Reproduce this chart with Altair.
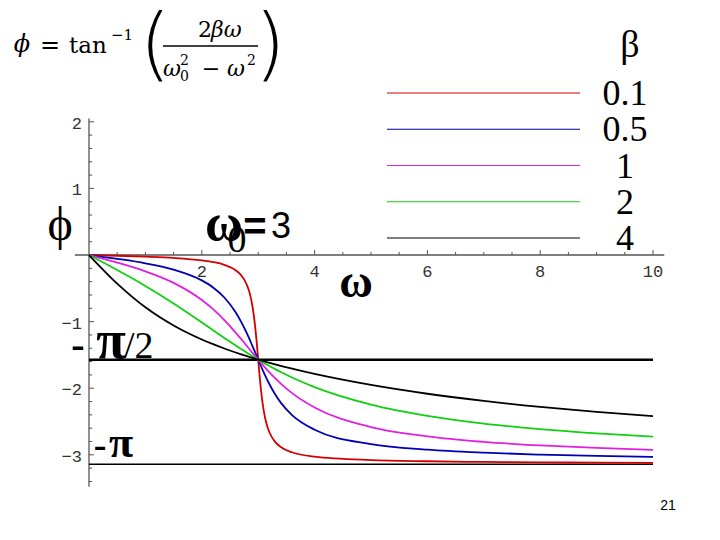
import altair as alt
import pandas as pd

# ---------------- data ----------------
omega = [0, 0.5, 1, 1.5, 2, 2.2, 2.4, 2.6, 2.7, 2.8, 2.85, 2.9, 2.95, 2.97, 3,
         3.03, 3.05, 3.1, 3.15, 3.2, 3.3, 3.4, 3.6, 4, 5, 6, 7, 8, 9, 10]
betas = ["0.1", "0.5", "1", "2", "4"]
phi_b01 = [0, -0.011, -0.025, -0.044, -0.080, -0.105, -0.147, -0.228, -0.306, -0.450,
           -0.576, -0.777, -1.104, -1.279, -1.571, -1.860, -2.031, -2.348, -2.542, -2.665,
           -2.805, -2.882, -2.962, -3.028, -3.079, -3.097, -3.107, -3.113, -3.117, -3.120]
phi_b05 = [0, -0.057, -0.124, -0.219, -0.381, -0.487, -0.638, -0.860, -1.007, -1.178,
           -1.272, -1.370, -1.470, -1.511, -1.571, -1.630, -1.670, -1.765, -1.856, -1.940,
           -2.091, -2.216, -2.404, -2.623, -2.839, -2.923, -2.968, -2.997, -3.017, -3.032]
phi_b1 = [0, -0.114, -0.245, -0.418, -0.675, -0.813, -0.977, -1.164, -1.264, -1.367,
          -1.418, -1.470, -1.520, -1.541, -1.571, -1.601, -1.620, -1.669, -1.716, -1.762,
          -1.850, -1.931, -2.074, -2.290, -2.583, -2.723, -2.805, -2.859, -2.897, -2.925]
phi_b2 = [0, -0.225, -0.464, -0.727, -1.012, -1.129, -1.245, -1.359, -1.414, -1.468,
          -1.494, -1.520, -1.546, -1.556, -1.571, -1.586, -1.596, -1.620, -1.644, -1.667,
          -1.713, -1.757, -1.839, -1.983, -2.246, -2.415, -2.531, -2.614, -2.678, -2.728]
phi_b4 = [0, -0.429, -0.785, -1.058, -1.268, -1.339, -1.404, -1.464, -1.492, -1.519,
          -1.532, -1.545, -1.558, -1.563, -1.571, -1.578, -1.583, -1.595, -1.607, -1.619,
          -1.642, -1.665, -1.707, -1.786, -1.951, -2.083, -2.191, -2.281, -2.356, -2.420]
colors = ["#d40000", "#0000b4", "#e020e0", "#10d010", "#000000"]

ref_levels = [-1.5708, -3.1416]          # -pi/2, -pi
omega_span = [0, 10]

y_major = [-3, -2, -1, 1, 2]
y_major_labels = ["\u22123", "\u22122", "\u22121", "1", "2"]
y_minor = [-3.4, -3.2, -2.8, -2.6, -2.4, -2.2, -1.8, -1.6, -1.4, -1.2, -0.8, -0.6,
           -0.4, -0.2, 0.2, 0.4, 0.6, 0.8, 1.2, 1.4, 1.6, 1.8]
x_major = [2, 4, 6, 8, 10]
x_major_labels = ["2", "4", "6", "8", "10"]
x_minor = [0.5, 1, 1.5, 2.5, 3, 3.5, 4.5, 5, 5.5, 6.5, 7, 7.5, 8.5, 9, 9.5]
axis_x_range = [-0.25, 10.2]
axis_y_range = [-3.48, 2.05]

# ---------------- tables ----------------
rows = []
for b, series in zip(betas, [phi_b01, phi_b05, phi_b1, phi_b2, phi_b4]):
    for w, p in zip(omega, series):
        rows.append({"omega": w, "phi": p, "beta": b})
curves = pd.DataFrame(rows)

X = alt.Scale(domain=[-1.436, 11.046], nice=False, zero=False)
Y = alt.Scale(domain=[-4.159, 3.709], nice=False, zero=False)
C = alt.Scale(domain=betas, range=colors)

one = pd.DataFrame({"k": [0]})

# axes
xaxis = alt.Chart(pd.DataFrame({"a": [axis_x_range[0]], "b": [axis_x_range[1]], "y": [0]})).mark_rule(
    color="#555", strokeWidth=1.3).encode(
    x=alt.X("a:Q", scale=X, axis=None), x2="b:Q", y=alt.Y("y:Q", scale=Y, axis=None))
yaxis = alt.Chart(pd.DataFrame({"a": [axis_y_range[0]], "b": [axis_y_range[1]], "x": [0]})).mark_rule(
    color="#555", strokeWidth=1.3).encode(
    y=alt.Y("a:Q", scale=Y, axis=None), y2="b:Q", x=alt.X("x:Q", scale=X, axis=None))

def yticks(vals, length):
    return alt.Chart(pd.DataFrame({"v": vals})).transform_calculate(
        x0="0", x1=str(length)).mark_rule(color="#555", strokeWidth=1).encode(
        x=alt.X("x0:Q", scale=X, axis=None), x2="x1:Q", y=alt.Y("v:Q", scale=Y, axis=None))

def xticks(vals, length):
    return alt.Chart(pd.DataFrame({"v": vals})).transform_calculate(
        y0="0", y1=str(length)).mark_rule(color="#555", strokeWidth=1).encode(
        y=alt.Y("y0:Q", scale=Y, axis=None), y2="y1:Q", x=alt.X("v:Q", scale=X, axis=None))

ylab = alt.Chart(pd.DataFrame({"v": y_major, "t": y_major_labels})).transform_calculate(
    x0="0").mark_text(font="Liberation Mono", fontSize=17, color="#333", align="right",
                      baseline="middle", dx=-7, dy=2).encode(
    x=alt.X("x0:Q", scale=X, axis=None), y=alt.Y("v:Q", scale=Y, axis=None), text="t:N")
xlab = alt.Chart(pd.DataFrame({"v": x_major, "t": x_major_labels})).transform_calculate(
    y0="0").mark_text(font="Liberation Mono", fontSize=17, color="#333", align="center",
                      baseline="alphabetic", dy=22).encode(
    x=alt.X("v:Q", scale=X, axis=None), y=alt.Y("y0:Q", scale=Y, axis=None), text="t:N")

refs = []
for lev, sw in zip(ref_levels, [2.5, 1.5]):
    refs.append(alt.Chart(pd.DataFrame({"a": [omega_span[0]], "b": [omega_span[1]], "y": [lev]})).mark_rule(
        color="black", strokeWidth=sw).encode(
        x=alt.X("a:Q", scale=X, axis=None), x2="b:Q", y=alt.Y("y:Q", scale=Y, axis=None)))

lines = alt.Chart(curves).mark_line(strokeWidth=1.8, interpolate="monotone").encode(
    x=alt.X("omega:Q", scale=X, axis=None),
    y=alt.Y("phi:Q", scale=Y, axis=None),
    color=alt.Color("beta:N", scale=C, legend=None),
)

def label(text, x, y, size, font="Liberation Serif", weight="normal", style="normal",
          align="center", color="black"):
    return alt.Chart(one).mark_text(text=text, fontSize=size, font=font, fontWeight=weight,
                                    fontStyle=style, align=align, baseline="alphabetic",
                                    color=color).encode(x=alt.value(x - 8), y=alt.value(y - 8))

F = "DejaVu Serif"
texts = [
    # formula
    label("\u03d5", 22, 52, 24, font=F, style="italic"),
    label("=", 50, 53, 24, font=F),
    label("tan", 69, 53, 23, font=F, align="left"),
    label("\u22121", 111, 40, 15, font=F, align="left"),
    label("(", 155, 71, 80, font="DejaVu Sans", weight=200),
    label(")", 270, 71, 80, font="DejaVu Sans", weight=200),
    label("2", 198, 37, 22, font=F, align="left"),
    label("\u03b2\u03c9", 211, 37, 22, font=F, style="italic", align="left"),
    label("\u03c9", 163, 76, 22, font=F, style="italic", align="left"),
    label("2", 180, 65, 14, font=F, align="left"),
    label("0", 180, 81, 14, font=F, align="left"),
    label("\u2212", 211, 76, 22, font=F),
    label("\u03c9", 227, 76, 22, font=F, style="italic", align="left"),
    label("2", 247, 65, 14, font=F, align="left"),
    # annotations
    label("\u03d5", 60, 240, 48),
    label("\u03c9", 224, 240, 52, weight="bold"),
    label("0", 237, 252, 38),
    label("=", 255, 240, 40, font="Liberation Sans", weight="bold"),
    label("3", 281, 238, 36, font="Liberation Sans"),
    label("\u03c9", 356, 297, 46, weight="bold"),
    label("-", 78, 358, 40, weight="bold"),
    label("\u03c0", 111, 358, 54, weight="bold"),
    label("/2", 124, 358, 38, align="left"),
    label("-", 100, 457, 38, weight="bold"),
    label("\u03c0", 121, 457, 44, weight="bold"),
    label("\u03b2", 630, 57, 38),
    label("21", 668, 510, 14, font="Liberation Sans"),
]

# formula fraction bar
frac = alt.Chart(one).mark_rule(color="black", strokeWidth=1.3).encode(
    x=alt.value(155), x2=alt.value(250), y=alt.value(38))

main = alt.layer(
    xaxis, yaxis,
    yticks(y_major, 0.09), yticks(y_minor, 0.055),
    xticks(x_major, 0.075), xticks(x_minor, 0.045),
    ylab, xlab, *refs, lines, frac, *texts,
)

# legend built from the beta table through a point scale
leg_df = pd.DataFrame({"beta": betas})
LY = alt.Scale(type="point", domain=betas, range=[85, 230], padding=0)
leg_lines = alt.Chart(leg_df).mark_rule().encode(
    x=alt.value(379), x2=alt.value(572),
    y=alt.Y("beta:N", scale=LY, axis=None),
    color=alt.Color("beta:N", scale=C, legend=None),
    size=alt.Size("beta:O", scale=alt.Scale(domain=betas, range=[1.1, 1.1, 1.2, 1.5, 2.2]), legend=None),
)
leg_text = alt.Chart(leg_df).mark_text(font="Liberation Serif", fontSize=36, align="center",
                                       baseline="alphabetic", dy=12).encode(
    x=alt.value(617), y=alt.Y("beta:N", scale=LY, axis=None), text="beta:N")
legend = alt.layer(leg_lines, leg_text)

chart = alt.layer(main, legend).resolve_scale(y="independent").properties(
    width=704, height=524, padding=0, autosize=alt.AutoSizeParams(type="none"),
    background="white",
).configure_view(stroke=None)

chart.save("out.html", embed_options={"renderer": "svg", "actions": False})
